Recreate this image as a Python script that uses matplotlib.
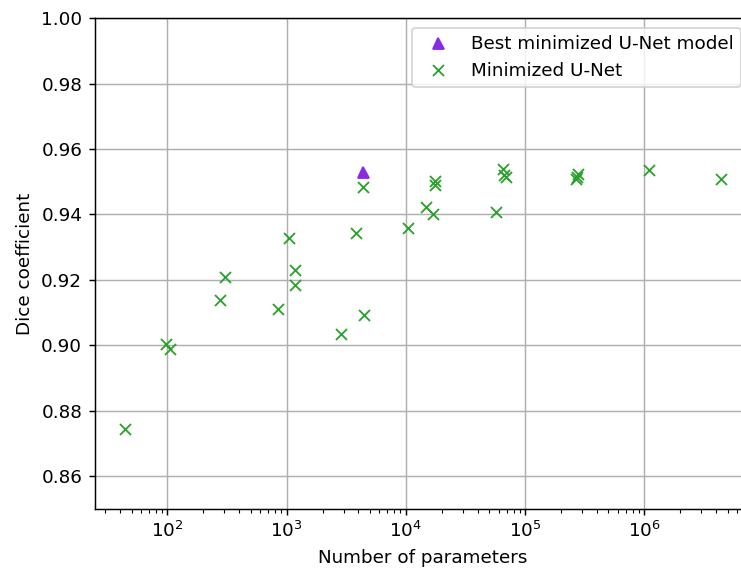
import numpy as np
import matplotlib
matplotlib.use("Agg")
import matplotlib.pyplot as plt

# minimized U-Net runs: parameter count vs dice
params = [44, 98, 105, 275, 307, 849, 1042, 1164, 1164, 2830, 3852, 4380, 4466,
          10430, 14700, 16900, 17460, 17500, 57400, 65300, 68800, 67000,
          265000, 277000, 272000, 1.09e6, 4.36e6]
dice = [0.8743, 0.9005, 0.8989, 0.9137, 0.9210, 0.9112, 0.9327, 0.9231, 0.9185,
        0.9035, 0.9343, 0.9483, 0.9093, 0.9359, 0.9424, 0.9400, 0.9503, 0.9490,
        0.9409, 0.9538, 0.9514, 0.9522, 0.9509, 0.9524, 0.9516, 0.9535, 0.9509]

# best model
best_params = [4380]
best_dice = [0.9529]

dpi = 132
fig = plt.figure(figsize=(741 / dpi, 574 / dpi), dpi=dpi)
# right part of the axes falls just outside the picture, as in the original crop
ax = fig.add_axes([0.1282, 0.1141, 0.884, 0.8537])

ax.plot(best_params, best_dice, '^', color='blueviolet', label='Best minimized U-Net model')
ax.plot(params, dice, 'x', color='tab:green', label='Minimized U-Net')

ax.set_xscale('log')
ax.set_xlim(24.7, 7.7e6)
ax.set_ylim(0.85, 1.0)
ax.set_xlabel('Number of parameters')
ax.set_ylabel('Dice coefficient')
ax.grid(True)
ax.legend(loc='upper right')

fig.savefig('out.png', dpi=dpi)
